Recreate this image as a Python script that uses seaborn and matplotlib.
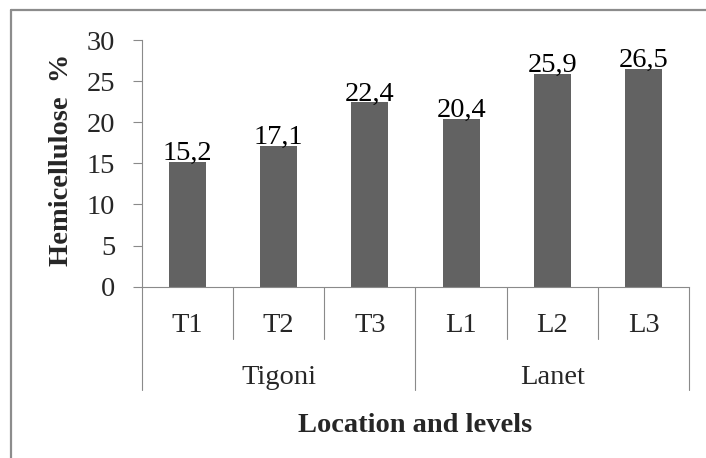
import matplotlib
matplotlib.use("Agg")
import matplotlib.pyplot as plt
import matplotlib.transforms as mtransforms
from matplotlib.lines import Line2D
import seaborn as sns
import pandas as pd

# ---- data ----
levels = ["T1", "T2", "T3", "L1", "L2", "L3"]
values = [15.2, 17.1, 22.4, 20.4, 25.9, 26.5]
groups = ["Tigoni", "Lanet"]
group_sizes = [3, 3]
y_ticks = [0, 5, 10, 15, 20, 25, 30]
y_label = "Hemicellulose  %"
x_label = "Location and levels"

sns.set_style("white")
plt.rcParams["font.family"] = ["Liberation Serif", "DejaVu Serif"]

FS = 20.5
W, H, DPI = 706, 458, 100
fig = plt.figure(figsize=(W / DPI, H / DPI), dpi=DPI)
fig.patch.set_facecolor("white")

ax_l, ax_r, ax_t, ax_b = 141.7, 689.3, 40.0, 286.7
ax = fig.add_axes([ax_l / W, 1 - ax_b / H, (ax_r - ax_l) / W, (ax_b - ax_t) / H])

df = pd.DataFrame({"level": levels, "value": values})
sns.barplot(data=df, x="level", y="value", color="#626262", saturation=1,
            width=0.405, ax=ax, order=levels)
for p in ax.patches:
    p.set_edgecolor("none")

axis_col = "#8a8a8a"
ax.set_xlim(-0.5, len(levels) - 0.5)
ax.set_ylim(0, 30)
ax.set_yticks(y_ticks)
ax.set_yticklabels([str(t) for t in y_ticks], fontsize=FS)
ax.tick_params(axis="y", which="major", left=True, direction="out",
               length=6.5, width=0.8, color=axis_col, pad=12.5)
ax.set_xticks([])
ax.set_xlabel("")
ax.set_ylabel("")
for s in ["top", "right"]:
    ax.spines[s].set_visible(False)
for s in ["left", "bottom"]:
    ax.spines[s].set_color(axis_col)
    ax.spines[s].set_linewidth(0.8)

# bar value labels
for i, v in enumerate(values):
    ax.annotate(f"{v:.1f}".replace(".", ","), (i, v), xytext=(0, 1.5),
                textcoords="offset points", ha="center", va="baseline",
                fontsize=FS, color="black")

# multi-level category axis
axh = ax_b - ax_t
trans = mtransforms.blended_transform_factory(ax.transData, ax.transAxes)
short = -(339 - ax_b) / axh
long_ = -(390 - ax_b) / axh
bounds = [-0.5]
acc = -0.5
for g in group_sizes:
    acc += g
    bounds.append(acc)
for k in range(len(levels) + 1):
    x = k - 0.5
    y1 = long_ if x in bounds else short
    ax.add_line(Line2D([x, x], [0, y1], transform=trans, color=axis_col,
                       lw=0.8, clip_on=False))
for i, lab in enumerate(levels):
    ax.text(i, -(331.7 - ax_b) / axh, lab, transform=trans, ha="center",
            va="baseline", fontsize=FS)
start = -0.5
for g, n in zip(groups, group_sizes):
    ax.text(start + n / 2, -(383.5 - ax_b) / axh, g, transform=trans,
            ha="center", va="baseline", fontsize=FS)
    start += n

ax.text(0.5, -(431.7 - ax_b) / axh, x_label, transform=ax.transAxes,
        ha="center", va="baseline", fontsize=FS, fontweight="bold")
ax.text((61.7 - ax_l) / (ax_r - ax_l), (ax_b - 160) / axh, y_label,
        transform=ax.transAxes, rotation=90, ha="center", va="center",
        fontsize=FS, fontweight="bold")

# outer chart border (clipped at right and bottom)
bcol = "#8c8c8c"
fig.add_artist(Line2D([10.5 / W, 10.5 / W], [1 - 9.5 / H, -0.05],
                      transform=fig.transFigure, color=bcol, lw=1.6))
fig.add_artist(Line2D([10.5 / W, 1.05], [1 - 9.5 / H, 1 - 9.5 / H],
                      transform=fig.transFigure, color=bcol, lw=1.6))

fig.savefig("out.png", dpi=DPI, facecolor="white")
